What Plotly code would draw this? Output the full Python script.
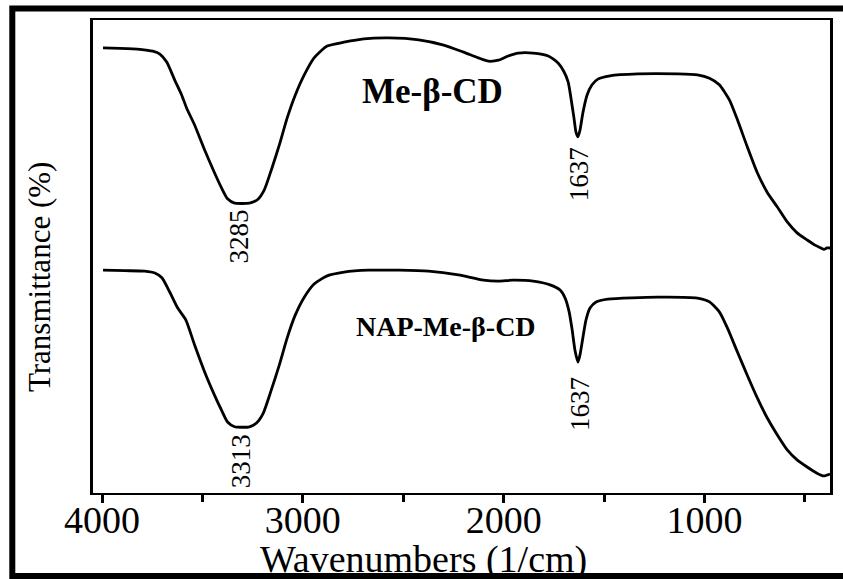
import plotly.graph_objects as go

# ---- data (wavenumber in 1/cm, transmittance in arbitrary %) ----
wn_me = [3995, 3911, 3812, 3747, 3712, 3678, 3638, 3603, 3579, 3539, 3489, 3440, 3405, 3375,
         3340, 3266, 3226, 3192, 3157, 3117, 3078, 3038, 2993, 2944, 2879, 2795, 2696, 2572,
         2423, 2299, 2200, 2126, 2076, 2026, 1977, 1927, 1853, 1778, 1729, 1699, 1679, 1665,
         1650, 1640, 1630, 1620, 1605, 1585, 1560, 1531, 1471, 1332, 1134, 1035, 975, 926,
         876, 836, 787, 737, 688, 638, 588, 539, 489, 450, 420, 405, 390, 375]
t_me = [94.1, 94.0, 93.8, 93.4, 92.8, 91.1, 87.3, 84.1, 81.4, 77.8, 72.5, 67.7, 64.5, 62.2,
        61.3, 61.3, 62.0, 64.1, 68.3, 73.6, 79.3, 84.1, 88.4, 92.0, 94.5, 95.3, 96.0, 96.2,
        95.8, 94.7, 93.2, 92.0, 91.3, 91.5, 92.4, 93.0, 93.0, 92.4, 90.9, 89.0, 86.9, 83.5,
        79.3, 76.3, 75.3, 76.7, 80.5, 84.1, 86.3, 87.5, 88.2, 88.6, 88.6, 88.4, 87.7, 86.3,
        83.1, 78.9, 73.2, 67.7, 63.6, 60.5, 57.3, 55.0, 53.5, 52.4, 51.8, 51.5, 51.8, 51.8]

wn_nap = [3995, 3886, 3787, 3737, 3702, 3663, 3623, 3583, 3539, 3489, 3440, 3405, 3375, 3340,
          3266, 3231, 3197, 3157, 3117, 3078, 3038, 2993, 2944, 2879, 2795, 2671, 2522, 2374,
          2225, 2101, 2026, 1952, 1853, 1769, 1719, 1694, 1674, 1659, 1645, 1630, 1620, 1605,
          1590, 1570, 1540, 1481, 1233, 1035, 975, 926, 886, 836, 787, 737, 688, 638, 588,
          539, 489, 440, 405, 375]
t_nap = [47.1, 47.0, 46.9, 46.5, 45.5, 42.5, 39.1, 36.6, 31.3, 25.6, 20.7, 17.5, 15.0, 14.0,
         14.0, 14.8, 16.9, 21.8, 27.1, 32.8, 37.6, 41.4, 44.2, 45.9, 46.7, 47.1, 47.1, 46.9,
         46.1, 45.0, 44.8, 45.0, 44.8, 44.0, 42.9, 41.2, 38.3, 34.5, 30.2, 27.7, 29.2, 33.0,
         36.6, 39.1, 40.4, 41.0, 41.4, 41.2, 40.4, 38.3, 34.9, 29.8, 24.9, 20.1, 15.9, 12.3,
         9.1, 7.0, 5.5, 4.2, 3.6, 4.0]

tick_vals = [4000, 3000, 2000, 1000]
tick_text = ["4000", "3000", "2000", "1000"]

# peak labels: (text, wavenumber, transmittance)
peak_labels = [("3285", 3316, 54.3), ("1637", 1625, 67.4),
               ("3313", 3311, 6.8), ("1637", 1620, 18.8)]
sample_labels = [("Me-\u03b2-CD", 2354, 84.8, 35), ("NAP-Me-\u03b2-CD", 2289, 35.3, 28)]

FONT = "Liberation Serif"

fig = go.Figure()
for xs, ys in [(wn_me, t_me), (wn_nap, t_nap)]:
    fig.add_trace(go.Scatter(x=xs, y=ys, mode="lines",
                             line=dict(color="black", width=2.8, shape="spline", smoothing=0.6),
                             showlegend=False, hoverinfo="skip"))

annotations = []
for txt, x, y in peak_labels:
    annotations.append(dict(x=x, y=y, text=txt, showarrow=False, textangle=-90,
                            xanchor="center", yanchor="middle",
                            font=dict(family=FONT, size=27, color="black")))
for txt, x, y, s in sample_labels:
    annotations.append(dict(x=x, y=y, text="<b>" + txt + "</b>", showarrow=False,
                            xanchor="center", yanchor="middle",
                            font=dict(family=FONT, size=s, color="black")))
annotations.append(dict(xref="paper", yref="paper", x=-0.0716, y=0.457,
                        xanchor="center", yanchor="middle",
                        text="Transmittance (%)", showarrow=False, textangle=-90,
                        font=dict(family=FONT, size=31, color="black")))
annotations.append(dict(xref="paper", yref="paper", x=0.449, y=-0.1405,
                        xanchor="center", yanchor="middle",
                        text="Wavenumbers (1/cm)", showarrow=False,
                        font=dict(family=FONT, size=38, color="black")))

fig.update_layout(
    width=843, height=579,
    margin=dict(l=93, r=10, t=20, b=86),
    paper_bgcolor="white", plot_bgcolor="white",
    annotations=annotations,
    shapes=[dict(type="rect", xref="paper", yref="paper",
                 x0=-0.1095, x1=1.03, y0=-0.1755, y1=1.0243,
                 line=dict(color="black", width=6), fillcolor="rgba(0,0,0,0)")],
)
fig.update_xaxes(range=[4045, 375], tickvals=tick_vals, ticktext=tick_text,
                 ticks="outside", ticklen=8, tickwidth=3, tickcolor="black",
                 ticklabelstandoff=-16,
                 minor=dict(dtick=500, tick0=500, ticks="outside", ticklen=7,
                            tickwidth=3, tickcolor="black", showgrid=False),
                 showline=True, linewidth=2, linecolor="black", mirror=True,
                 showgrid=False, zeroline=False,
                 tickfont=dict(family=FONT, size=38, color="black"))
fig.update_yaxes(range=[0, 100], showticklabels=False, ticks="",
                 showline=True, linewidth=3, linecolor="black", mirror=True,
                 showgrid=False, zeroline=False)

fig.write_html("out.html")
